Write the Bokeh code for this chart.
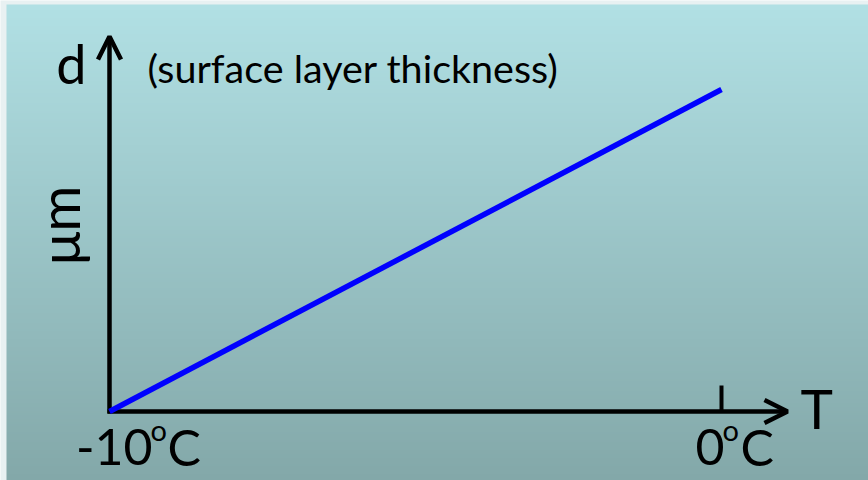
import numpy as np
from bokeh.plotting import figure
from bokeh.models import Range1d, Arrow, OpenHead
from bokeh.embed import file_html
from bokeh.resources import INLINE
from bokeh.core.properties import value

# ---- data ----
temps = [-10, 0]            # temperature (deg C)
thickness = [0.0, 1.0]      # surface layer thickness (arbitrary units, um)
tick_temps = [-10, 0]
tick_texts = ["-10", "0"]
tick_mark_temps = [0]
x_title = "T"
y_title = "d"
y_unit = "μm"
note = "(surface layer thickness)"

# ---- layout ----
W, H = 868, 480
PX_PER_DEG = 61.2
PX_PER_UNIT = 322.0
OX, OY = 109, 411          # origin position inside figure (px from top-left)
x0 = temps[0] - OX / PX_PER_DEG
x1 = x0 + W / PX_PER_DEG
y1 = OY / PX_PER_UNIT
y0 = y1 - H / PX_PER_UNIT
y_axis_top = y1 - 36 / PX_PER_UNIT
x_axis_end = temps[1] + 66 / PX_PER_DEG


def dx(px):
    return px / PX_PER_DEG


def dy(px):
    return px / PX_PER_UNIT


FONT = value("Lato")

p = figure(width=W, height=H, x_range=Range1d(x0, x1), y_range=Range1d(y0, y1),
           output_backend="svg", toolbar_location=None, min_border=0,
           outline_line_color=None, x_axis_type=None, y_axis_type=None,
           background_fill_color="#e8f1f2", border_fill_color="#e8f1f2")
p.grid.visible = False

# gradient background (slide area, with thin light border at top/left)
N = 240
top = np.array([177, 224, 228], dtype=float)
bot = np.array([131, 168, 169], dtype=float)
img = np.zeros((N, 1), dtype=np.uint32)
view = img.view(dtype=np.uint8).reshape((N, 1, 4))
for i in range(N):
    t = i / (N - 1)
    c = bot + (top - bot) * t
    view[i, 0, 0:3] = np.round(c).astype(np.uint8)
    view[i, 0, 3] = 255
bg = p.image_rgba(image=[img], x=x0 + dx(6), y=y0, dw=x1 - x0 - dx(6), dh=y1 - y0 - dy(4))
bg.level = "image"

# axes arrows
ya = Arrow(end=OpenHead(size=23, line_width=4.5, line_color="black"),
           x_start=temps[0], y_start=thickness[0] - dy(2),
           x_end=temps[0], y_end=y_axis_top, line_width=4.5, line_color="black",
           level="underlay")
xa = Arrow(end=OpenHead(size=23, line_width=4.5, line_color="black"),
           x_start=temps[0] - dx(2), y_start=thickness[0],
           x_end=x_axis_end, y_end=thickness[0], line_width=4.5, line_color="black",
           level="underlay")
p.add_layout(ya)
p.add_layout(xa)

# tick mark at 0
p.segment(x0=tick_mark_temps, y0=[thickness[0]] * len(tick_mark_temps),
          x1=tick_mark_temps, y1=[dy(26)] * len(tick_mark_temps),
          line_width=4, line_color="black")

# data line
p.line(temps, thickness, line_width=5.5, line_color="#0000ff")

# tick labels with superscript o
for t, s in zip(tick_temps, tick_texts):
    p.text(x=[t], y=[0], text=[s], x_offset=43 if t == -10 else 3, y_offset=35,
           text_font=FONT, text_font_size="50px", text_align="right",
           text_baseline="alphabetic", text_color="black")
    p.text(x=[t], y=[0], text=["o"], x_offset=41 if t == -10 else 1, y_offset=18,
           text_font=FONT, text_font_size="29px", text_align="left",
           text_baseline="alphabetic", text_color="black")
    p.text(x=[t], y=[0], text=["C"], x_offset=58 if t == -10 else 19, y_offset=35,
           text_font=FONT, text_font_size="50px", text_align="left",
           text_baseline="alphabetic", text_color="black")

# axis titles
p.text(x=[temps[1]], y=[0], text=[x_title], x_offset=79, y_offset=-4,
       text_font=FONT, text_font_size="55px", text_align="left",
       text_baseline="alphabetic", text_color="black")
p.text(x=[temps[0]], y=[thickness[1]], text=[y_title], x_offset=-23, y_offset=-26,
       text_font=FONT, text_font_size="54px", text_align="right",
       text_baseline="alphabetic", text_color="black")
p.text(x=[temps[0] - dx(51)], y=[dy(186)], text=[y_unit],
       angle=np.pi / 2, text_font=FONT, text_font_size="56px", text_align="center",
       text_baseline="alphabetic", text_color="black")
p.text(x=[temps[0]], y=[thickness[1]], text=[note], x_offset=38, y_offset=-22,
       text_font=FONT, text_font_size="39.5px", text_align="left",
       text_baseline="alphabetic", text_color="black")

open("out.html", "w").write(file_html(p, INLINE))
